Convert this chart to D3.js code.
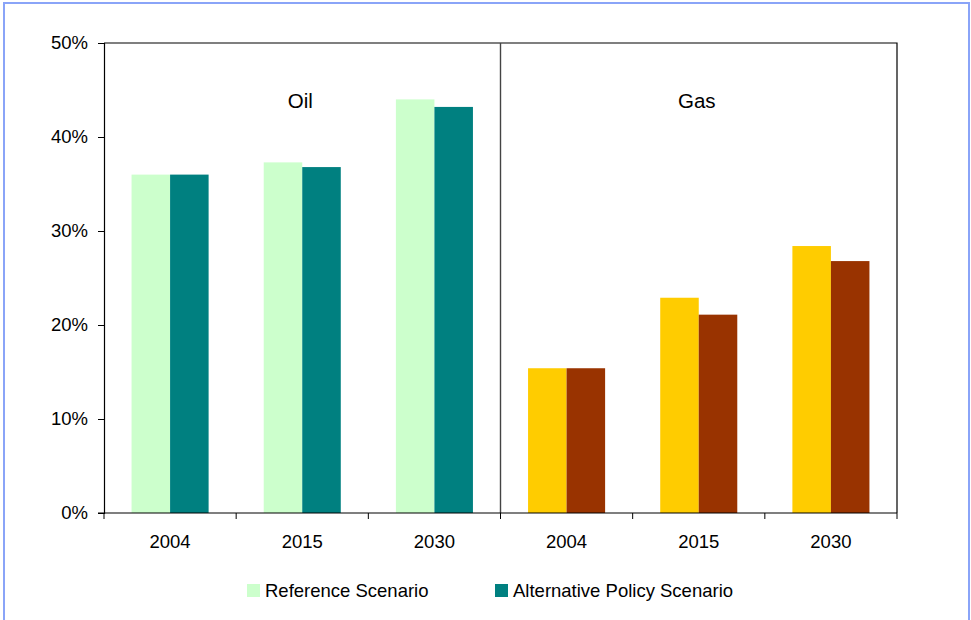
<!DOCTYPE html>
<html>
<head>
<meta charset="utf-8">
<script src="https://cdn.jsdelivr.net/npm/d3@7"></script>
<style>
  html, body { margin: 0; padding: 0; background: #fff; }
  svg { display: block; font-family: "Liberation Sans", Arial, sans-serif; }
</style>
</head>
<body>
<svg id="chart" width="971" height="620"></svg>
<script>
// Fuel share data (% of total), by fuel and year
const fuels = ["Oil", "Gas"];
const years = ["2004", "2015", "2030"];
const seriesNames = ["Reference Scenario", "Alternative Policy Scenario"];
const referenceScenario = [36.0, 37.3, 44.0, 15.4, 22.9, 28.4];
const alternativePolicyScenario = [36.0, 36.8, 43.2, 15.4, 21.1, 26.8];
const yTicks = [0, 10, 20, 30, 40, 50];

// Colours per fuel: [reference, alternative]
const fuelColors = {
  Oil: ["#ccffcc", "#008080"],
  Gas: ["#ffcc00", "#993300"]
};

const svg = d3.select("#chart");
const FS = 18.5;

// Outer frame
svg.append("rect")
  .attr("x", 4).attr("y", 3)
  .attr("width", 965).attr("height", 630)
  .attr("fill", "none")
  .attr("stroke", "#8aa4f8")
  .attr("stroke-width", 2);

const plot = { left: 104, top: 43, right: 897, bottom: 513 };

// Category keys: one per fuel/year
const cats = [];
fuels.forEach(f => years.forEach(y => cats.push({ fuel: f, year: y, key: f + "-" + y })));

const x0 = d3.scaleBand()
  .domain(cats.map(c => c.key))
  .range([plot.left, plot.right])
  .padding(0);

const groupWidth = x0.bandwidth() * 0.583;
const x1 = d3.scaleBand()
  .domain(seriesNames)
  .range([0, groupWidth])
  .padding(0);

const y = d3.scaleLinear()
  .domain([0, 50])
  .range([plot.bottom, plot.top]);

const g = svg.append("g");

// Bars
const rows = cats.map((c, i) => ({
  ...c,
  values: [referenceScenario[i], alternativePolicyScenario[i]]
}));

const groups = g.selectAll("g.cat")
  .data(rows)
  .join("g")
  .attr("class", "cat")
  .attr("transform", d => `translate(${x0(d.key) + (x0.bandwidth() - groupWidth) / 2},0)`);

groups.selectAll("rect")
  .data(d => d.values.map((v, j) => ({ v, j, fuel: d.fuel })))
  .join("rect")
  .attr("x", d => x1(seriesNames[d.j]))
  .attr("width", x1.bandwidth())
  .attr("y", d => y(d.v))
  .attr("height", d => y(0) - y(d.v))
  .attr("fill", d => fuelColors[d.fuel][d.j]);

// Plot frame: top and right edges
g.append("path")
  .attr("d", `M${plot.left},${plot.top}H${plot.right}V${plot.bottom}`)
  .attr("fill", "none")
  .attr("stroke", "#000")
  .attr("stroke-width", 1.2);

// Divider between fuels
const divX = x0(cats[years.length].key);
g.append("line")
  .attr("x1", divX).attr("x2", divX)
  .attr("y1", plot.top).attr("y2", plot.bottom)
  .attr("stroke", "#444")
  .attr("stroke-width", 1.4);

// Y axis
const yAxis = d3.axisLeft(y)
  .tickValues(yTicks)
  .tickSize(6)
  .tickPadding(10)
  .tickFormat(d => d + "%");

const ya = g.append("g")
  .attr("transform", `translate(${plot.left},0)`)
  .call(yAxis);
ya.select(".domain").attr("stroke", "#000").attr("stroke-width", 1.2);
ya.selectAll(".tick line").attr("stroke", "#000");
ya.selectAll(".tick text")
  .attr("font-size", FS)
  .attr("fill", "#000")
  .attr("font-family", "Liberation Sans, Arial, sans-serif");

// X axis: ticks at category boundaries
const boundaries = cats.map(c => x0(c.key)).concat([plot.right]);
const xa = g.append("g");
xa.append("line")
  .attr("x1", plot.left - 6).attr("x2", plot.right)
  .attr("y1", plot.bottom).attr("y2", plot.bottom)
  .attr("stroke", "#000").attr("stroke-width", 1.2);
xa.selectAll("line.btick")
  .data(boundaries)
  .join("line")
  .attr("class", "btick")
  .attr("x1", d => d).attr("x2", d => d)
  .attr("y1", plot.bottom).attr("y2", plot.bottom + 6)
  .attr("stroke", "#000");

// Year labels
xa.selectAll("text.year")
  .data(cats)
  .join("text")
  .attr("class", "year")
  .attr("x", d => x0(d.key) + x0.bandwidth() / 2)
  .attr("y", 548)
  .attr("text-anchor", "middle")
  .attr("font-size", FS)
  .attr("fill", "#000")
  .text(d => d.year);

// Fuel labels
fuels.forEach(f => {
  const first = x0(f + "-" + years[0]);
  const last = x0(f + "-" + years[years.length - 1]) + x0.bandwidth();
  g.append("text")
    .attr("x", (first + last) / 2 - 2)
    .attr("y", 108)
    .attr("text-anchor", "middle")
    .attr("font-size", 20.5)
    .attr("fill", "#000")
    .text(f);
});

// Legend
const legendItems = [
  { name: seriesNames[0], color: fuelColors.Oil[0], x: 247 },
  { name: seriesNames[1], color: fuelColors.Oil[1], x: 495 }
];
const lg = svg.append("g");
const li = lg.selectAll("g").data(legendItems).join("g")
  .attr("transform", d => `translate(${d.x},584)`);
li.append("rect")
  .attr("width", 13).attr("height", 13)
  .attr("fill", d => d.color);
li.append("text")
  .attr("x", 18).attr("y", 12.8)
  .attr("font-size", FS)
  .attr("fill", "#000")
  .text(d => d.name);
</script>
</body>
</html>
